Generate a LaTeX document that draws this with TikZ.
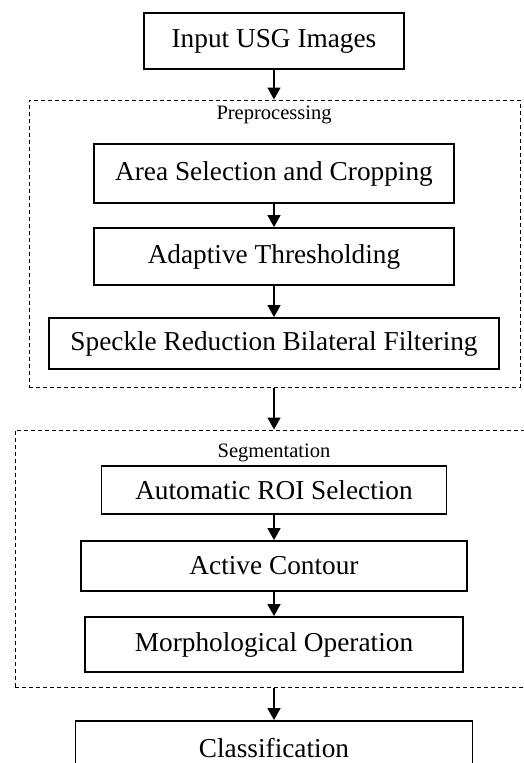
\documentclass[tikz,border=0pt]{standalone}
\usepackage{fontspec}
\setmainfont{Liberation Serif}
\usetikzlibrary{arrows.meta}
\tikzset{
  procbox/.style={draw, line width=1.8pt, rectangle, inner sep=0pt, font=\fontsize{27.3}{32}\selectfont},
  grpbox/.style={draw, line width=1pt, dash pattern=on 4pt off 3pt, rectangle, inner sep=0pt},
  grplabel/.style={inner sep=0pt, font=\fontsize{20.5}{24}\selectfont},
  flow/.style={line width=1.5pt, -{Triangle[width=13pt,length=12pt]}}
}
\begin{document}
\begin{tikzpicture}[x=1pt,y=-1pt]
\clip (0,0) rectangle (524,763);
\fill[white] (0,0) rectangle (524,763);
% group frames
\node[grpbox, minimum width=491pt, minimum height=287pt] (pre) at (274.5,243.5) {};
\node[grpbox, minimum width=515pt, minimum height=257pt] (seg) at (272.5,558.5) {};
\node[grplabel] (prelbl) at (274,115) {Preprocessing};
\node[grplabel] (seglbl) at (274,453) {Segmentation};
% boxes
\node[procbox, minimum width=260pt, minimum height=56pt] (in) at (274,41) {Input USG Images};
\node[procbox, minimum width=360pt, minimum height=59pt] (area) at (274,173.5) {Area Selection and Cropping};
\node[procbox, minimum width=360pt, minimum height=57pt] (adapt) at (274,256.5) {Adaptive Thresholding};
\node[procbox, minimum width=450pt, minimum height=51pt] (speck) at (274,343.5) {Speckle Reduction Bilateral Filtering};
\node[procbox, minimum width=345pt, minimum height=48pt] (roi) at (274,490) {Automatic ROI Selection};
\node[procbox, minimum width=386pt, minimum height=50pt] (act) at (274,566) {Active Contour};
\node[procbox, minimum width=378pt, minimum height=55pt] (morph) at (274,644.5) {Morphological Operation};
\node[procbox, minimum width=397pt, minimum height=54pt] (cls) at (274,748) {Classification};
% connectors
\draw[flow] (in.south) -- (in.south |- pre.north);
\draw[flow] (area.south) -- (adapt.north);
\draw[flow] (adapt.south) -- (speck.north);
\draw[flow] (in.south |- pre.south) -- (in.south |- seg.north);
\draw[flow] (roi.south) -- (act.north);
\draw[flow] (act.south) -- (morph.north);
\draw[flow] (in.south |- seg.south) -- (cls.north);
\end{tikzpicture}
\end{document}
